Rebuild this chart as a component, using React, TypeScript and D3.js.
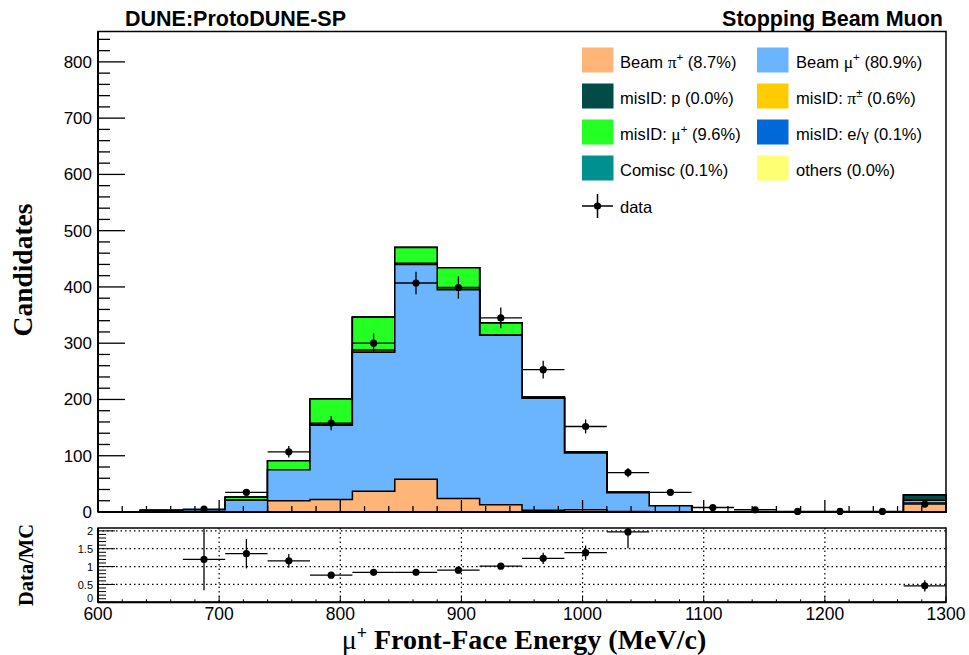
import React from 'react';
import * as d3 from 'd3';

// ---------- data ----------
const binEdges = [600, 635, 670, 705, 740, 775, 810, 845, 880, 915, 950, 985, 1020, 1055, 1090, 1125, 1160, 1195, 1230, 1265, 1300];
const beamPi   = [0, 0, 0, 0, 20, 22, 37, 58, 24, 13, 3, 4, 1, 0, 0, 0, 0, 0, 0, 16];
const beamMu   = [0, 2.5, 4, 21, 55, 132, 247, 382, 371, 301, 199, 101, 33, 11, 0, 0, 0, 0, 0, 5];
const misIDp   = [0, 0, 0, 0, 0, 0, 0, 0, 0, 0, 0, 0, 0, 0, 0, 0, 0, 0, 0, 9];
const misIDpi  = [0, 0, 0, 0, 0, 2, 4, 2, 1, 0, 0, 0, 0, 0, 0, 0, 0, 0, 0, 0];
const misIDmu  = [0, 0, 0, 5, 16, 45, 58, 28, 38, 22, 2, 2, 1, 0, 0, 0, 0, 0, 0, 0];
const misIDe   = [0, 0, 0, 0, 0, 0, 0, 0, 0, 0, 0, 0, 0, 0, 0, 0, 0, 0, 0, 0];
const comisc   = [0, 0, 0, 0, 0, 0, 0, 0, 0, 0, 0, 0, 0, 0, 0, 0, 0, 0, 0, 0];
const others   = [0, 0, 0, 0, 0, 0, 0, 0, 0, 0, 0, 0, 0, 0, 0, 0, 0, 0, 0, 0];
const dataCounts = [0, 0, 5, 35, 107, 158, 300, 407, 399, 345, 253, 152, 70, 35, 8, 4, 1, 1, 1, 14];
const ratioValues = [null, null, 1.20, 1.36, 1.16, 0.76, 0.84, 0.84, 0.90, 1.01, 1.23, 1.39, 1.97, null, null, null, null, null, null, 0.46];
const ratioErrors = [0, 0, 0.86, 0.41, 0.19, 0.06, 0.06, 0.06, 0.09, 0.05, 0.16, 0.2, 0.46, 0, 0, 0, 0, 0, 0, 0.16];

const layerNames = ['Beam π+', 'Beam μ+', 'misID: p', 'misID: π±', 'misID: μ+', 'misID: e/γ', 'Comisc', 'others'];
const layerColors = ['#ffb478', '#6bb5ff', '#024b47', '#ffcc00', '#24ff24', '#0068d9', '#00908f', '#ffff73'];
const layerValues = [beamPi, beamMu, misIDp, misIDpi, misIDmu, misIDe, comisc, others];

const yTicksMain = [0, 100, 200, 300, 400, 500, 600, 700, 800];
const xTicks = [600, 700, 800, 900, 1000, 1100, 1200, 1300];
const xGrid = [700, 800, 900, 1000, 1100, 1200];
const ratioTicks = [0, 0.5, 1, 1.5, 2];
const ratioTickLabels = ['0', '0.5', '1', '1.5', '2'];

const legendItems = [
  { idx: 0, pre: 'Beam ', greek: 'π', sup: '+', post: ' (8.7%)', col: 0, row: 0 },
  { idx: 1, pre: 'Beam ', greek: 'μ', sup: '+', post: ' (80.9%)', col: 1, row: 0 },
  { idx: 2, pre: 'misID: p (0.0%)', greek: '', sup: '', post: '', col: 0, row: 1 },
  { idx: 3, pre: 'misID: ', greek: 'π', sup: '±', post: ' (0.6%)', col: 1, row: 1 },
  { idx: 4, pre: 'misID: ', greek: 'μ', sup: '+', post: ' (9.6%)', col: 0, row: 2 },
  { idx: 5, pre: 'misID: e/', greek: 'γ', sup: '', post: '  (0.1%)', col: 1, row: 2 },
  { idx: 6, pre: 'Comisc (0.1%)', greek: '', sup: '', post: '', col: 0, row: 3 },
  { idx: 7, pre: 'others (0.0%)', greek: '', sup: '', post: '', col: 1, row: 3 },
];

const SANS = '"Liberation Sans", Arial, Helvetica, sans-serif';
const SERIF = '"Liberation Serif", "Times New Roman", serif';

export default function App() {
  const W = 969, H = 655;
  const L = 98, R = 946;
  const x = d3.scaleLinear().domain([600, 1300]).range([L, R]);
  const y = d3.scaleLinear().domain([0, 854]).range([512, 31.5]);
  const yr = d3.scaleLinear().domain([0, 2.08]).range([602.3, 528]);

  const nb = binEdges.length - 1;
  const cum: number[][] = [];
  layerValues.forEach((vals, k) => {
    cum.push(vals.map((v, i) => v + (k > 0 ? cum[k - 1][i] : 0)));
  });

  const stepPath = (tops: number[]) => {
    let p = `M${x(binEdges[0])},${y(0)}`;
    for (let i = 0; i < nb; i++) {
      p += `L${x(binEdges[i])},${y(tops[i])}L${x(binEdges[i + 1])},${y(tops[i])}`;
    }
    p += `L${x(binEdges[nb])},${y(0)}Z`;
    return p;
  };

  const minorX = d3.range(600, 1301, 20);
  const minorY = d3.range(0, 854, 20);
  const minorR = d3.range(0, 2.08, 0.1);

  const legX = [582, 757];
  const legTextX = [620, 796];
  const legRowY = [60, 96, 132, 168];

  return (
    <svg width={W} height={H} style={{ position: 'absolute', left: 0, top: 0, background: '#fff' }}>
      <rect x={0} y={0} width={W} height={H} fill="#fff" />
      {layerValues.map((_, k) => {
        const kk = layerValues.length - 1 - k;
        return (
          <path key={'l' + kk} d={stepPath(cum[kk])} fill={layerColors[kk]} stroke="#000" strokeWidth={1.5} />
        );
      })}

      {dataCounts.map((v, i) => {
        if (v <= 0) return null;
        const cx = x((binEdges[i] + binEdges[i + 1]) / 2);
        const e = Math.sqrt(v);
        return (
          <g key={'d' + i} stroke="#000" strokeWidth={1.3}>
            <line x1={x(binEdges[i])} x2={x(binEdges[i + 1])} y1={y(v)} y2={y(v)} />
            <line x1={cx} x2={cx} y1={y(v + e)} y2={y(Math.max(0, v - e))} />
            <circle cx={cx} cy={y(v)} r={3.6} fill="#000" stroke="none" />
          </g>
        );
      })}

      <rect x={L} y={31.5} width={R - L} height={512 - 31.5} fill="none" stroke="#000" strokeWidth={1.5} />
      <line x1={L} x2={L} y1={31.5} y2={512} stroke="#000" strokeWidth={2} />
      <line x1={L} x2={R} y1={512} y2={512} stroke="#000" strokeWidth={2} />

      {minorY.map((t) => (
        <line key={'my' + t} x1={L} x2={L + (t % 100 === 0 ? 27 : 12)} y1={y(t)} y2={y(t)} stroke="#000" strokeWidth={1.3} />
      ))}
      {yTicksMain.map((t) => (
        <text key={'yl' + t} x={92} y={y(t) + 6} textAnchor="end" fontFamily={SANS} fontSize={17}>{t}</text>
      ))}
      {minorX.map((t) => (
        <line key={'mx' + t} x1={x(t)} x2={x(t)} y1={512} y2={512 - (t % 100 === 0 ? 12 : 6)} stroke="#000" strokeWidth={1.3} />
      ))}

      <text x={125} y={26} fontFamily={SANS} fontWeight="bold" fontSize={21.5}>DUNE:ProtoDUNE-SP</text>
      <text x={943} y={26} textAnchor="end" fontFamily={SANS} fontWeight="bold" fontSize={21.5}>Stopping Beam Muon</text>
      <text transform="translate(32,270) rotate(-90)" textAnchor="middle" fontFamily={SERIF} fontWeight="bold" fontSize={27.5}>Candidates</text>

      {legendItems.map((it) => {
        const cy = legRowY[it.row];
        return (
          <g key={'lg' + it.idx}>
            <rect x={legX[it.col]} y={cy - 12.5} width={31.5} height={25} fill={layerColors[it.idx]} />
            <text x={legTextX[it.col]} y={cy + 7.5} fontFamily={SANS} fontSize={16.5}>
              {it.pre}
              {it.greek ? <tspan fontFamily={SERIF} fontSize={17.5}>{it.greek}</tspan> : null}
              {it.sup ? <tspan dy={-6.5} fontSize={11.5}>{it.sup}</tspan> : null}
              {it.sup ? <tspan dy={6.5}>{it.post}</tspan> : it.post ? <tspan>{it.post}</tspan> : null}
            </text>
          </g>
        );
      })}
      <g stroke="#000" strokeWidth={1.5}>
        <line x1={582} x2={613} y1={206} y2={206} />
        <line x1={597.5} x2={597.5} y1={194} y2={218} />
        <circle cx={597.5} cy={206} r={3.6} fill="#000" stroke="none" />
      </g>
      <text x={620} y={213} fontFamily={SANS} fontSize={16.5}>data</text>

      {ratioTicks.slice(1).map((t) => (
        <line key={'rg' + t} x1={L} x2={R} y1={yr(t)} y2={yr(t)} stroke="#000" strokeWidth={1.2} strokeDasharray="1.5,3" />
      ))}
      {xGrid.map((t) => (
        <line key={'xg' + t} x1={x(t)} x2={x(t)} y1={528} y2={602.3} stroke="#000" strokeWidth={1.2} strokeDasharray="1.5,3" />
      ))}
      {ratioValues.map((v, i) => {
        if (v === null) return null;
        const cx = x((binEdges[i] + binEdges[i + 1]) / 2);
        const e = ratioErrors[i];
        const top = Math.min(2.08, v + e);
        const bot = Math.max(0, v - e);
        return (
          <g key={'r' + i} stroke="#000" strokeWidth={1.3}>
            <line x1={x(binEdges[i])} x2={x(binEdges[i + 1])} y1={yr(v)} y2={yr(v)} />
            <line x1={cx} x2={cx} y1={yr(top)} y2={yr(bot)} />
            <circle cx={cx} cy={yr(v)} r={3.6} fill="#000" stroke="none" />
          </g>
        );
      })}
      <rect x={L} y={528} width={R - L} height={602.3 - 528} fill="none" stroke="#000" strokeWidth={1.5} />
      <line x1={L} x2={L} y1={528} y2={602.3} stroke="#000" strokeWidth={2} />
      <line x1={L} x2={R} y1={602.3} y2={602.3} stroke="#000" strokeWidth={2} />
      {minorR.map((t, j) => (
        <line key={'mr' + j} x1={L} x2={L + (j % 5 === 0 ? 17 : 8)} y1={yr(t)} y2={yr(t)} stroke="#000" strokeWidth={1} />
      ))}
      {minorX.map((t) => (
        <line key={'rx' + t} x1={x(t)} x2={x(t)} y1={602.3} y2={602.3 - (t % 100 === 0 ? 6 : 3)} stroke="#000" strokeWidth={1} />
      ))}
      {ratioTicks.map((t, j) => (
        <text key={'rl' + t} x={93} y={t === 0 ? 601.5 : yr(t) + 4.2} textAnchor="end" fontFamily={SANS} fontSize={11}>{ratioTickLabels[j]}</text>
      ))}
      <text transform="translate(33,565) rotate(-90)" textAnchor="middle" fontFamily={SERIF} fontWeight="bold" fontSize={20.5}>Data/MC</text>

      {xTicks.map((t) => (
        <text key={'xl' + t} x={x(t)} y={619.5} textAnchor="middle" fontFamily={SANS} fontSize={17.5}>{t}</text>
      ))}
      <text x={524} y={649} textAnchor="middle" fontFamily={SERIF} fontWeight="bold" fontSize={28}>
        <tspan fontWeight="normal">μ</tspan>
        <tspan dy={-10} fontSize={18}>+</tspan>
        <tspan dy={10}> Front-Face Energy (MeV/c)</tspan>
      </text>
    </svg>
  );
}
